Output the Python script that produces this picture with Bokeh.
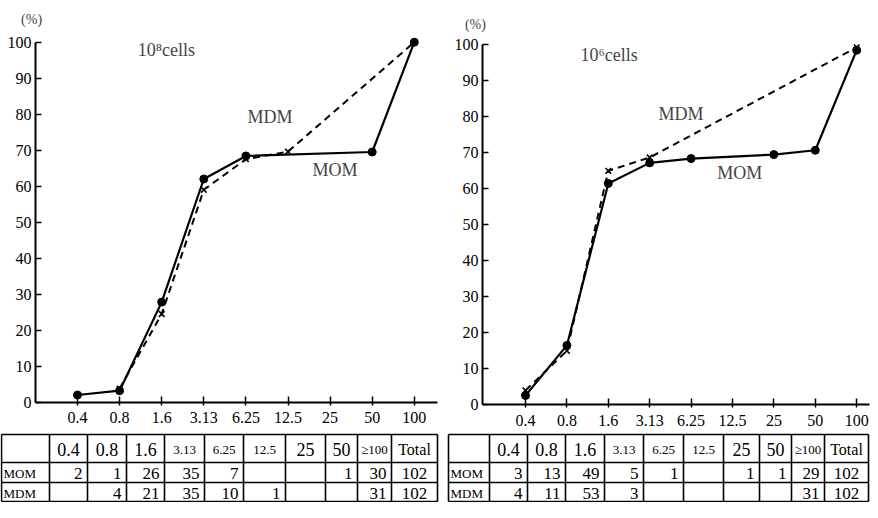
from bokeh.plotting import figure
from bokeh.models import Range1d, Label, FixedTicker, ColumnDataSource, LinearAxis
from bokeh.embed import file_html
from bokeh.resources import INLINE
from bokeh.core.properties import value

# ---------------- data ----------------
conc_labels = ["0.4", "0.8", "1.6", "3.13", "6.25", "12.5", "25", "50", "100"]
y_ticks = [0, 10, 20, 30, 40, 50, 60, 70, 80, 90, 100]

# 10^8 cells panel (cumulative %)
mom8_conc = ["0.4", "0.8", "1.6", "3.13", "6.25", "50", "100"]
mom8_pct = [2.0, 3.2, 27.8, 62.0, 68.4, 69.5, 100.0]
mdm8_conc = ["0.8", "1.6", "3.13", "6.25", "12.5", "100"]
mdm8_pct = [3.8, 24.5, 59.0, 67.5, 69.6, 100.0]

# 10^6 cells panel
mom6_conc = ["0.4", "0.8", "1.6", "3.13", "6.25", "25", "50", "100"]
mom6_pct = [2.6, 16.5, 61.5, 67.2, 68.4, 69.5, 70.7, 98.5]
mdm6_conc = ["0.4", "0.8", "1.6", "3.13", "100"]
mdm6_pct = [4.0, 15.0, 65.0, 68.7, 99.3]

# tables
table_header = ["0.4", "0.8", "1.6", "3.13", "6.25", "12.5", "25", "50", "≥100", "Total"]
row_names = ["MOM", "MDM"]
mom8_counts = ["2", "1", "26", "35", "7", "", "", "1", "30", "102"]
mdm8_counts = ["", "4", "21", "35", "10", "1", "", "", "31", "102"]
mom6_counts = ["3", "13", "49", "5", "1", "", "1", "1", "29", "102"]
mdm6_counts = ["4", "11", "53", "3", "", "", "", "", "31", "102"]

# ---------------- layout constants (canvas pixels) ----------------
SERIF = "Liberation Serif"
W, H = 870, 502
LEFT_EDGES = [1, 49, 87, 126, 164, 204, 243, 285, 325, 357, 391, 437]
RIGHT_EDGES = [448, 489, 527, 565, 604, 643, 683, 723, 759, 791, 824, 868]
ROW_EDGES = [434, 462, 482, 501]

p = figure(width=W, height=H, output_backend="svg", toolbar_location=None,
           x_range=Range1d(0, W), y_range=Range1d(H, 0),
           x_axis_location=None, y_axis_location=None,
           min_border_left=0, min_border_right=0, min_border_top=0,
           min_border_bottom=0)
p.outline_line_color = None
p.grid.visible = False
p.background_fill_color = "white"
p.border_fill_color = "white"


def add_chart(name, x0_px, x_unit, y0_px, y_unit, axis_x, x_end,
              mom_c, mom_p, mdm_c, mdm_p, title, pct_pos, title_pos, mdm_pos, mom_pos):
    xr, yr = name + "x", name + "y"
    p.extra_x_ranges[xr] = Range1d(-x0_px / x_unit, (W - x0_px) / x_unit)
    p.extra_y_ranges[yr] = Range1d(-(H - y0_px) / y_unit, y0_px / y_unit)

    xa = LinearAxis(x_range_name=xr, y_range_name=yr, fixed_location=0,
                    bounds=(axis_x, x_end),
                    ticker=FixedTicker(ticks=list(range(len(conc_labels)))),
                    major_label_overrides={i: s for i, s in enumerate(conc_labels)})
    ya = LinearAxis(x_range_name=xr, y_range_name=yr, fixed_location=axis_x,
                    bounds=(0, 100), ticker=FixedTicker(ticks=y_ticks))
    for ax in (xa, ya):
        ax.axis_line_width = 2
        ax.axis_line_color = "black"
        ax.major_tick_line_width = 1.5
        ax.major_tick_line_color = "black"
        ax.minor_tick_line_color = None
        ax.major_label_text_font = SERIF
        ax.major_label_text_font_size = "16px"
        ax.major_label_text_color = "black"
    ya.major_tick_in = 6
    ya.major_tick_out = 0
    ya.major_label_standoff = 4
    xa.major_tick_in = 6
    xa.major_tick_out = 3
    xa.major_label_standoff = 7
    p.add_layout(xa, "below")
    p.add_layout(ya, "left")

    def ix(labels):
        return [conc_labels.index(c) for c in labels]

    kw = dict(x_range_name=xr, y_range_name=yr)
    xm, xd = ix(mom_c), ix(mdm_c)
    p.line(xd, mdm_p, line_color="black", line_width=2, line_dash="7 5", **kw)
    p.scatter(xd, mdm_p, marker="x", size=8, line_color="black", line_width=1.6, **kw)
    p.line(xm, mom_p, line_color="black", line_width=2.2, **kw)
    p.scatter(xm, mom_p, marker="circle", size=8, fill_color="black",
              line_color="black", **kw)

    p.add_layout(Label(x=pct_pos[0], y=pct_pos[1], text="(%)", text_font=SERIF,
                       text_font_size="14px", text_align="center",
                       text_baseline="middle", **kw))
    p.add_layout(Label(x=title_pos[0], y=title_pos[1], text=title, text_font=SERIF,
                       text_font_size="18px", text_baseline="middle", **kw))
    p.add_layout(Label(x=mdm_pos[0], y=mdm_pos[1], text="MDM", text_font=SERIF,
                       text_font_size="18px", text_baseline="middle", **kw))
    p.add_layout(Label(x=mom_pos[0], y=mom_pos[1], text="MOM", text_font=SERIF,
                       text_font_size="18px", text_baseline="middle", **kw))


def add_table(edges, mom_counts, mdm_counts):
    left, right = edges[0], edges[-1]
    p.segment(x0=[left] * len(ROW_EDGES), x1=[right] * len(ROW_EDGES),
              y0=ROW_EDGES, y1=ROW_EDGES, line_color="black", line_width=1.6)
    p.segment(x0=edges, x1=edges, y0=[ROW_EDGES[0]] * len(edges),
              y1=[ROW_EDGES[-1]] * len(edges), line_color="black", line_width=1.6)

    ycen = [(ROW_EDGES[i] + ROW_EDGES[i + 1]) / 2 + 1 for i in range(3)]
    hx, hy, ht, hs = [], [], [], []
    for i, h in enumerate(table_header):
        hx.append((edges[i + 1] + edges[i + 2]) / 2)
        hy.append(ycen[0])
        ht.append(h)
        if h in ("3.13", "6.25", "12.5", "≥100"):
            hs.append("13px")
        elif h == "Total":
            hs.append("16px")
        else:
            hs.append("18px")
    p.text(x="x", y="y", text="t", text_font_size="s",
           source=ColumnDataSource(dict(x=hx, y=hy, t=ht, s=hs)),
           text_font=value(SERIF), text_align="center", text_baseline="middle",
           text_color="black")
    p.text(x=[edges[0] + 2] * 2, y=ycen[1:], text=row_names, text_font=value(SERIF),
           text_font_size="13px", text_align="left", text_baseline="middle",
           text_color="black")
    vx, vy, vt, va = [], [], [], []
    for r, counts in enumerate([mom_counts, mdm_counts]):
        for i, c in enumerate(counts):
            if not c:
                continue
            if table_header[i] == "Total":
                vx.append((edges[i + 1] + edges[i + 2]) / 2)
                va.append("center")
            else:
                vx.append(edges[i + 2] - 5)
                va.append("right")
            vy.append(ycen[r + 1])
            vt.append(c)
    p.text(x="x", y="y", text="t", text_align="a",
           source=ColumnDataSource(dict(x=vx, y=vy, t=vt, a=va)),
           text_font=value(SERIF), text_font_size="17px", text_baseline="middle",
           text_color="black")


add_chart("L", 77, 42.1, 401.7, 3.6, -1.0, 8.55,
          mom8_conc, mom8_pct, mdm8_conc, mdm8_pct, "10⁸cells",
          (-1.09, 106.3), (1.43, 97.7), (4.04, 79.1), (5.58, 64.4))
add_chart("R", 525, 41.4, 404.3, 3.6, -1.04, 8.31,
          mom6_conc, mom6_pct, mdm6_conc, mdm6_pct, "10⁶cells",
          (-1.21, 105.6), (1.33, 97.3), (3.21, 80.9), (4.63, 64.5))
add_table(LEFT_EDGES, mom8_counts, mdm8_counts)
add_table(RIGHT_EDGES, mom6_counts, mdm6_counts)

open("out.html", "w").write(file_html(p, INLINE))
